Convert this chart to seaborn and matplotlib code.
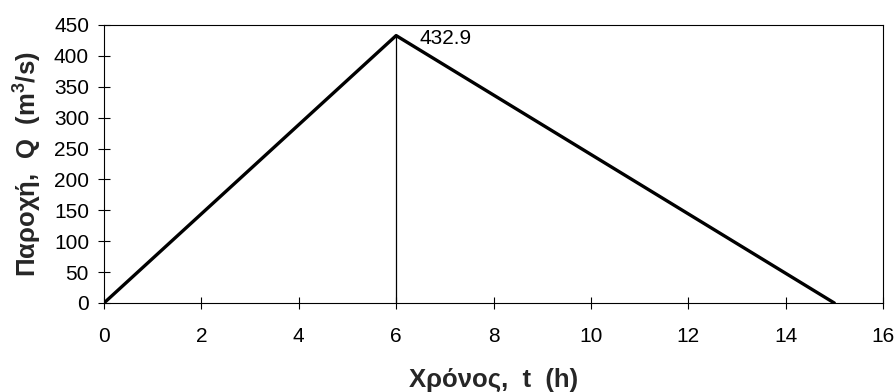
import matplotlib
matplotlib.use("Agg")
import matplotlib.pyplot as plt
import seaborn as sns
import pandas as pd

t_hours = [0, 6, 15]
discharge = [0, 432.9, 0]
peak_t = 6
peak_q = 432.9
x_ticks = [0, 2, 4, 6, 8, 10, 12, 14, 16]
y_ticks = [0, 50, 100, 150, 200, 250, 300, 350, 400, 450]

sns.set_theme(style="white")
plt.rcParams['font.family'] = ['Liberation Sans', 'DejaVu Sans']
plt.rcParams['mathtext.fontset'] = 'custom'
plt.rcParams['mathtext.rm'] = 'Liberation Sans'
plt.rcParams['mathtext.bf'] = 'Liberation Sans:bold'

df = pd.DataFrame({"t": t_hours, "Q": discharge})

fig = plt.figure(figsize=(8.96, 3.92), dpi=100)
ax = fig.add_axes([104/896, 1 - 303/392, (883-104)/896, (303-25)/392])

sns.lineplot(data=df, x="t", y="Q", ax=ax, color="black", linewidth=2.4, sort=False)
ax.plot([peak_t, peak_t], [0, peak_q], color="black", linewidth=0.9)
ax.text(peak_t + 0.47, 419.5, f"{peak_q}", fontsize=15, va="baseline", ha="left", color="black")

ax.set_xlim(0, 16)
ax.set_ylim(0, 450)
ax.set_xticks(x_ticks)
ax.set_yticks(y_ticks)
ax.tick_params(axis="both", direction="inout", length=8.6, width=0.8, colors="black",
               labelsize=15, bottom=True, left=True)
ax.tick_params(axis="x", pad=13)
ax.tick_params(axis="y", pad=6.5)
for s in ax.spines.values():
    s.set_color("black")
    s.set_linewidth(0.8)
    s.set_visible(True)

ax.set_xlabel("Χρόνος,  t  (h)", fontsize=18.5, fontweight="bold", labelpad=16)
ax.set_ylabel("Παροχή,  Q  (m$^\\mathbf{3}$/s)", fontsize=18.5, fontweight="bold", labelpad=8)
ax.grid(False)

fig.savefig("out.png", dpi=100, facecolor="white")
